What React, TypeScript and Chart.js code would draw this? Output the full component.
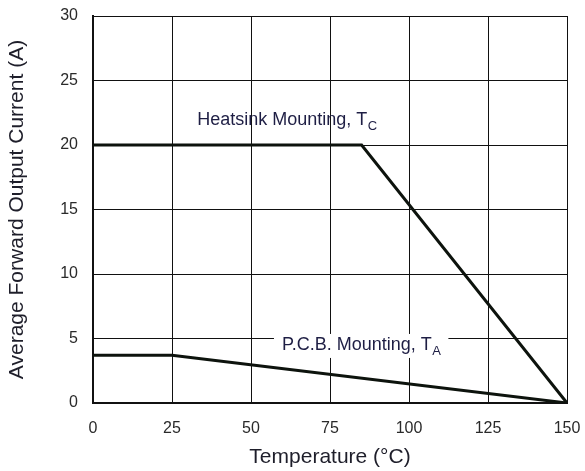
import React, { useEffect, useRef } from "react";
import { Chart, registerables } from "chart.js";

Chart.register(...registerables);

const xTicks = [0, 25, 50, 75, 100, 125, 150];
const yTicks = [0, 5, 10, 15, 20, 25, 30];
const heatsinkTemp = [0, 85, 150];
const heatsinkCurrent = [20, 20, 0];
const pcbTemp = [0, 25, 150];
const pcbCurrent = [3.7, 3.7, 0];
const heatsinkLabel = { x: 33, y: 21.9, text: "Heatsink Mounting, T", sub: "C" };
const pcbLabel = { x: 59.8, y: 4.5, text: "P.C.B. Mounting, T", sub: "A" };

const FONT = "'Liberation Sans', Arial, sans-serif";

const labelPlugin = {
  id: "curveLabels",
  afterDatasetsDraw(chart: any) {
    const ctx = chart.ctx;
    const xs = chart.scales.x;
    const ys = chart.scales.y;
    const draw = (lab: any, bg: boolean) => {
      const px = xs.getPixelForValue(lab.x);
      const py = ys.getPixelForValue(lab.y);
      ctx.save();
      ctx.font = `18px ${FONT}`;
      const w1 = ctx.measureText(lab.text).width;
      ctx.font = `13px ${FONT}`;
      const w2 = ctx.measureText(lab.sub).width;
      if (bg) {
        ctx.fillStyle = "#ffffff";
        ctx.fillRect(px - 8, py - 11, w1 + w2 + 16, 24);
      }
      ctx.fillStyle = "#1e1e44";
      ctx.textBaseline = "middle";
      ctx.textAlign = "left";
      ctx.font = `18px ${FONT}`;
      ctx.fillText(lab.text, px, py);
      ctx.font = `13px ${FONT}`;
      ctx.fillText(lab.sub, px + w1 + 0.5, py + 6);
      ctx.restore();
    };
    draw(heatsinkLabel, false);
    draw(pcbLabel, true);
  },
};

export default function App() {
  const ref = useRef<HTMLCanvasElement>(null);
  useEffect(() => {
    if (!ref.current) return;
    const chart = new Chart(ref.current, {
      type: "line",
      data: {
        datasets: [
          {
            label: "Heatsink",
            data: heatsinkTemp.map((t, i) => ({ x: t, y: heatsinkCurrent[i] })),
            borderColor: "#0d130d",
            borderWidth: 3,
            pointRadius: 0,
            tension: 0,
          },
          {
            label: "PCB",
            data: pcbTemp.map((t, i) => ({ x: t, y: pcbCurrent[i] })),
            borderColor: "#0d130d",
            borderWidth: 3,
            pointRadius: 0,
            tension: 0,
          },
        ],
      },
      options: {
        animation: false,
        responsive: false,
        maintainAspectRatio: false,
        layout: { padding: { top: 16, right: 18, left: 0, bottom: 0 } },
        plugins: { legend: { display: false }, tooltip: { enabled: false } },
        scales: {
          x: {
            type: "linear",
            min: 0,
            max: 150,
            afterBuildTicks: (s: any) => {
              s.ticks = xTicks.map((v) => ({ value: v }));
            },
            afterFit: (s: any) => {
              s.height = 68;
              s.paddingLeft = 0;
              s.paddingRight = 0;
            },
            grid: { color: "#111", lineWidth: 1, drawTicks: false },
            border: { color: "#111", width: 2 },
            ticks: {
              padding: 16,
              color: "#2a2a2a",
              font: { family: FONT, size: 16 },
              maxRotation: 0,
            },
            title: {
              display: true,
              text: "Temperature (°C)",
              color: "#1e1e2a",
              font: { family: FONT, size: 21 },
              padding: { top: 4, bottom: 1 },
            },
          },
          y: {
            type: "linear",
            min: 0,
            max: 30,
            afterBuildTicks: (s: any) => {
              s.ticks = yTicks.map((v) => ({ value: v }));
            },
            afterFit: (s: any) => {
              s.width = 93;
              s.paddingTop = 0;
              s.paddingBottom = 0;
            },
            grid: { color: "#111", lineWidth: 1, drawTicks: false },
            border: { color: "#111", width: 2 },
            ticks: {
              padding: 15,
              color: "#2a2a2a",
              font: { family: FONT, size: 16 },
            },
            title: {
              display: true,
              text: "Average Forward Output Current (A)",
              color: "#1e1e2a",
              font: { family: FONT, size: 21 },
              padding: { top: 5, bottom: 0 },
            },
          },
        },
      },
      plugins: [labelPlugin],
    });
    return () => chart.destroy();
  }, []);
  return (
    <div style={{ position: "fixed", left: 0, top: 0, width: 585, height: 471, background: "#fff" }}>
      <canvas ref={ref} width={585} height={471} style={{ width: 585, height: 471 }} />
    </div>
  );
}
